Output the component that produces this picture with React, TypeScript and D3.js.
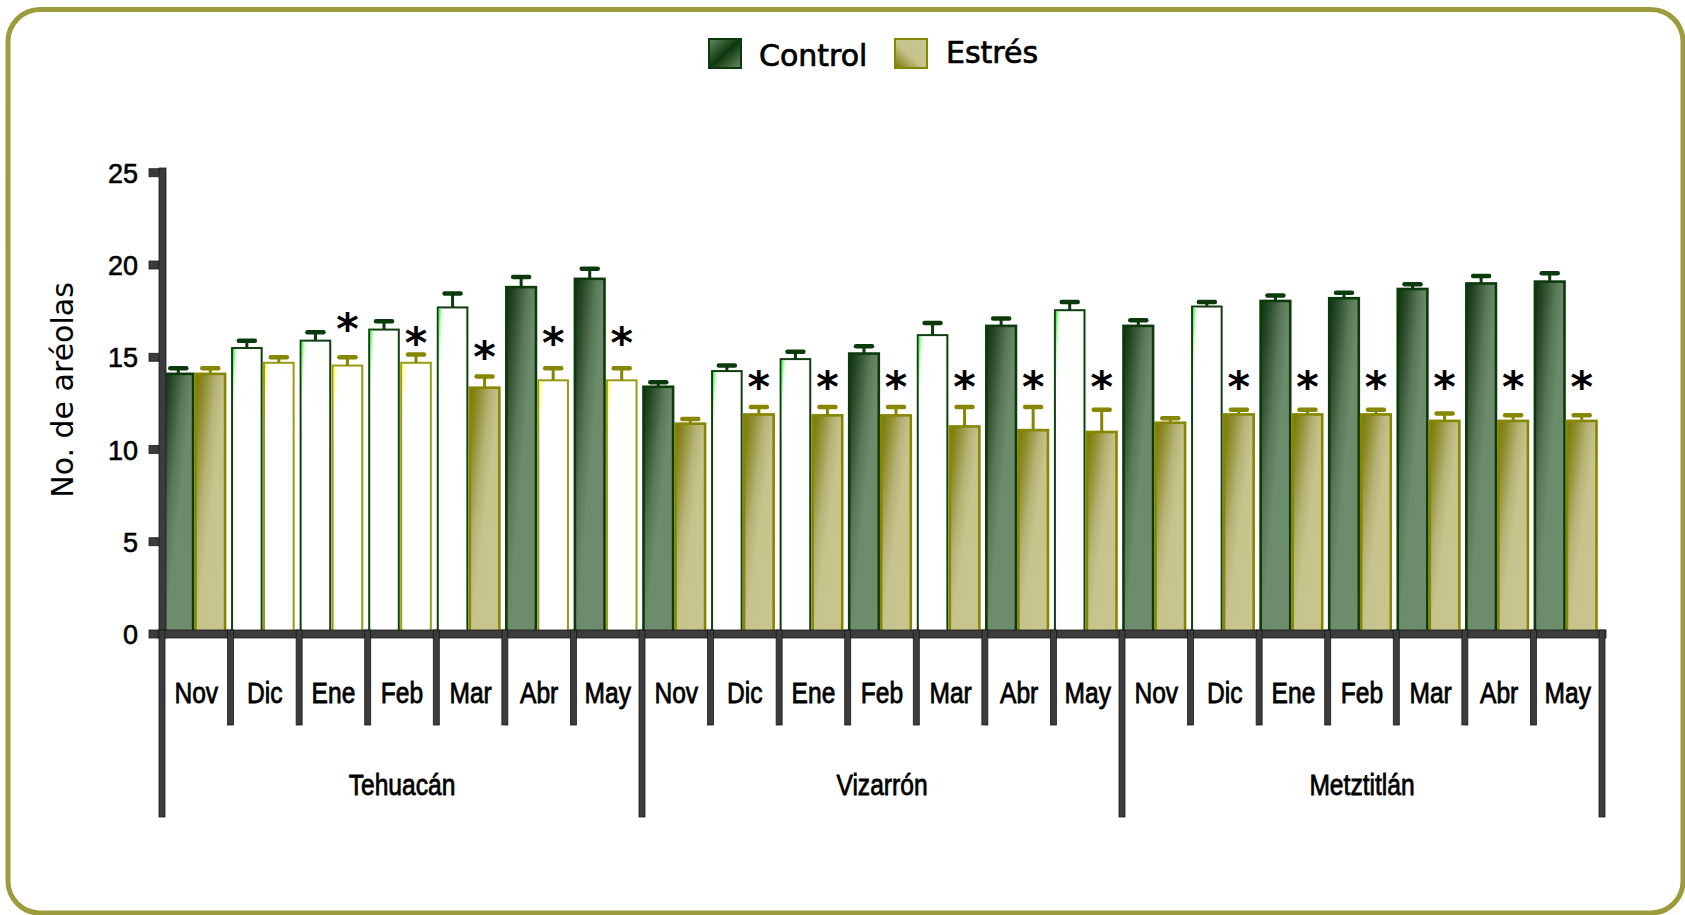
import React from "react";
import * as d3 from "d3";

// ---- data ----
const sites = ["Tehuacán", "Vizarrón", "Metztitlán"];
const months = ["Nov", "Dic", "Ene", "Feb", "Mar", "Abr", "May"];
const seriesNames = ["Control", "Estrés"];
const yTicks = [0, 5, 10, 15, 20, 25];

// one value per site × month, in site order
const controlMean = [
  14.1, 15.5, 15.9, 16.5, 17.7, 18.8, 19.25,
  13.4, 14.25, 14.9, 15.2, 16.2, 16.7, 17.55,
  16.7, 17.75, 18.05, 18.2, 18.7, 19.0, 19.1,
];
const controlErr = [
  0.3, 0.4, 0.45, 0.45, 0.75, 0.55, 0.55,
  0.25, 0.3, 0.4, 0.4, 0.65, 0.4, 0.45,
  0.3, 0.25, 0.3, 0.3, 0.25, 0.4, 0.45,
];
const stressMean = [
  14.1, 14.7, 14.55, 14.7, 13.35, 13.75, 13.75,
  11.4, 11.9, 11.85, 11.85, 11.25, 11.05, 10.95,
  11.45, 11.9, 11.9, 11.9, 11.55, 11.55, 11.55,
];
const stressErr = [
  0.3, 0.3, 0.45, 0.45, 0.6, 0.65, 0.65,
  0.25, 0.4, 0.45, 0.45, 1.05, 1.25, 1.2,
  0.25, 0.25, 0.25, 0.25, 0.4, 0.3, 0.3,
];
// height (areole units) of the significance asterisk over each stress bar; null = none
const starLevel: (number | null)[] = [
  null, null, 17.0, 16.28, 15.5, 16.26, 16.26,
  null, 13.9, 13.9, 13.9, 13.9, 13.9, 13.9,
  null, 13.9, 13.9, 13.9, 13.9, 13.9, 13.9,
];
// which bars carry the shaded gradient fill (the others are drawn hollow)
const controlShaded = [1, 0, 0, 0, 0, 1, 1, 1, 0, 0, 1, 0, 1, 0, 1, 0, 1, 1, 1, 1, 1];
const stressShaded = [1, 0, 0, 0, 1, 0, 0, 1, 1, 1, 1, 1, 1, 1, 1, 1, 1, 1, 1, 1, 1];

// ---- layout ----
const W = 1685;
const H = 915;
const AXIS = "#3c3c3c";
const NARROW = "'Liberation Sans', Arial, sans-serif";
const SANS = "'DejaVu Sans', Verdana, sans-serif";

const y = d3.scaleLinear().domain([0, 25]).range([634, 172.75]);
const cats = sites.flatMap((s) => months.map((m) => `${s}|${m}`));
const x = d3.scaleBand<string>().domain(cats).range([162, 1602]).padding(0);
const pair = d3.scaleBand<string>().domain(seriesNames).range([0, 64]);

const seriesStyle = [
  { mean: controlMean, err: controlErr, shaded: controlShaded, fill: "url(#gCtrl)", stroke: "#0b3a0b", glow: "url(#glowCtrl)", hollowStroke: "#0f3f0f" },
  { mean: stressMean, err: stressErr, shaded: stressShaded, fill: "url(#gStress)", stroke: "#868600", glow: "url(#glowStress)", hollowStroke: "#9a9a12" },
];

function NarrowText({ x: tx, y: ty, size, children }: { x: number; y: number; size: number; children: React.ReactNode }) {
  return (
    <text
      transform={`translate(${tx},${ty}) scale(0.82,1)`}
      textAnchor="middle"
      fontFamily={NARROW}
      fontSize={size}
      fill="#000"
      stroke="#000"
      strokeWidth={0.8}
    >
      {children}
    </text>
  );
}

export default function App() {
  const bw = x.bandwidth();
  const x0 = x.range()[0];
  const zeroY = y(0);

  const bars: React.ReactNode[] = [];
  const errs: React.ReactNode[] = [];
  cats.forEach((cat, i) => {
    seriesNames.forEach((name, s) => {
      const st = seriesStyle[s];
      const v = st.mean[i];
      const bx = (x(cat) as number) + bw / 2 - 2 - pair.bandwidth() + (pair(name) as number);
      const bwid = pair.bandwidth();
      const top = y(v);
      const h = zeroY - top;
      const shaded = st.shaded[i] === 1;
      bars.push(
        <g key={`b${i}-${s}`}>
          <rect
            x={bx + 1.2}
            y={top}
            width={bwid - 2.4}
            height={h}
            fill={shaded ? st.fill : "#ffffff"}
            stroke={shaded ? st.stroke : st.hollowStroke}
            strokeWidth={shaded ? 2.6 : 2}
          />
          {!shaded && (
            <rect x={bx + 2.2} y={top + 1.1} width={4} height={h * 0.4} fill={st.glow} />
          )}
        </g>
      );
      const cx = bx + bwid / 2;
      const capY = y(v + st.err[i]);
      errs.push(
        <g key={`e${i}-${s}`} stroke={st.stroke}>
          <line x1={cx} x2={cx} y1={top} y2={capY} strokeWidth={3} />
          <line x1={cx - 8} x2={cx + 8} y1={capY} y2={capY} strokeWidth={4.5} strokeLinecap="round" />
        </g>
      );
      if (s === 1 && starLevel[i] != null) {
        errs.push(
          <text
            key={`s${i}`}
            x={cx}
            y={y(starLevel[i] as number) + 24}
            textAnchor="middle"
            fontFamily={SANS}
            fontWeight="bold"
            fontSize={43}
            fill="#000"
          >
            *
          </text>
        );
      }
    });
  });

  const dividers = d3.range(cats.length + 1).map((k) => {
    const dx = x0 + k * bw;
    const isGroup = k % months.length === 0;
    return (
      <rect
        key={`d${k}`}
        x={dx - 3}
        y={zeroY - 4}
        width={6}
        height={(isGroup ? 817 : 725) - (zeroY - 4)}
        fill={AXIS}
        stroke="#1a1a1a"
        strokeWidth={0.8}
      />
    );
  });

  return (
    <svg
      width={W}
      height={H}
      viewBox={`0 0 ${W} ${H}`}
      style={{ position: "absolute", left: 0, top: 0, display: "block", background: "#fff" }}
    >
      <defs>
        <linearGradient id="gCtrl" x1="0" y1="0" x2="1" y2="1">
          <stop offset="0" stopColor="#0c320c" />
          <stop offset="0.16" stopColor="#2b4b2b" />
          <stop offset="0.36" stopColor="#587858" />
          <stop offset="0.52" stopColor="#6b8b6b" />
          <stop offset="1" stopColor="#6d8d6d" />
        </linearGradient>
        <linearGradient id="gStress" x1="0" y1="0" x2="1" y2="1">
          <stop offset="0" stopColor="#787600" />
          <stop offset="0.16" stopColor="#8f8d2c" />
          <stop offset="0.36" stopColor="#b5b376" />
          <stop offset="0.52" stopColor="#c6c48c" />
          <stop offset="1" stopColor="#c8c68e" />
        </linearGradient>
        <linearGradient id="glowCtrl" x1="0" y1="0" x2="0.6" y2="1">
          <stop offset="0" stopColor="#22ee22" stopOpacity="1" />
          <stop offset="0.6" stopColor="#ffffff" stopOpacity="0" />
        </linearGradient>
        <linearGradient id="glowStress" x1="0" y1="0" x2="0.6" y2="1">
          <stop offset="0" stopColor="#ffff22" stopOpacity="1" />
          <stop offset="0.6" stopColor="#ffffff" stopOpacity="0" />
        </linearGradient>
        <linearGradient id="legCtrl" x1="0" y1="0" x2="1" y2="1">
          <stop offset="0" stopColor="#6b8b6b" />
          <stop offset="0.5" stopColor="#0d380d" />
          <stop offset="1" stopColor="#6b8b6b" />
        </linearGradient>
        <linearGradient id="legStress" x1="0" y1="1" x2="1" y2="0">
          <stop offset="0" stopColor="#7a7800" />
          <stop offset="0.45" stopColor="#c6c48c" />
          <stop offset="1" stopColor="#c8c690" />
        </linearGradient>
      </defs>

      {/* rounded frame */}
      <rect x={8} y={9.5} width={1675} height={903.5} rx={32} fill="#fff" stroke="#9c9c3c" strokeWidth={5} />

      {/* legend */}
      <g>
        <rect x={709} y={39} width={32} height={29} fill="url(#legCtrl)" stroke="#0b3a0b" strokeWidth={2} />
        <text x={759} y={65.5} fontFamily={SANS} fontSize={30} fill="#000" stroke="#000" strokeWidth={0.7}>
          {seriesNames[0]}
        </text>
        <rect x={895} y={39} width={32} height={29} fill="url(#legStress)" stroke="#868600" strokeWidth={2} />
        <text x={946} y={63} fontFamily={SANS} fontSize={30} fill="#000" stroke="#000" strokeWidth={0.7}>
          {seriesNames[1]}
        </text>
      </g>

      {/* y axis title */}
      <text
        transform="translate(73,390) rotate(-90)"
        textAnchor="middle"
        fontFamily={SANS}
        fontSize={30}
        fill="#000"
      >
        No. de aréolas
      </text>

      {bars}
      {errs}

      {/* axes */}
      {yTicks.map((t) => (
        <g key={`t${t}`}>
          <rect x={149} y={y(t) - 4} width={14} height={8} fill={AXIS} stroke="#1a1a1a" strokeWidth={0.8} />
          <text
            x={138}
            y={y(t) + 10}
            textAnchor="end"
            fontFamily={NARROW}
            fontSize={27}
            fill="#000"
            stroke="#000"
            strokeWidth={0.6}
          >
            {t}
          </text>
        </g>
      ))}
      <rect x={159} y={168} width={7} height={470} fill={AXIS} stroke="#1a1a1a" strokeWidth={0.8} />
      <rect x={158} y={zeroY - 4} width={1448} height={8} fill={AXIS} stroke="#1a1a1a" strokeWidth={0.8} />
      {dividers}

      {/* month labels */}
      {cats.map((cat, i) => (
        <NarrowText key={`m${i}`} x={(x(cat) as number) + bw / 2} y={703} size={30}>
          {months[i % months.length]}
        </NarrowText>
      ))}
      {/* site labels */}
      {sites.map((s, g) => (
        <NarrowText key={`g${g}`} x={x0 + bw * months.length * (g + 0.5)} y={795} size={30}>
          {s}
        </NarrowText>
      ))}
    </svg>
  );
}
